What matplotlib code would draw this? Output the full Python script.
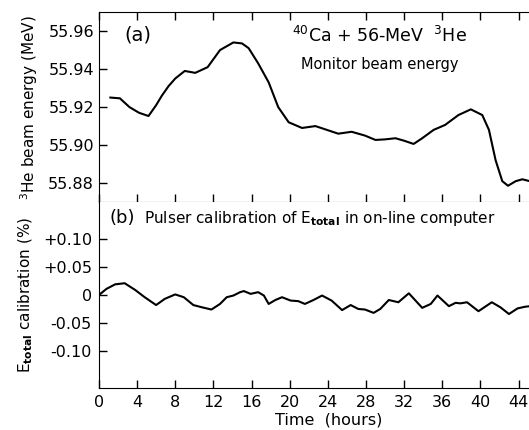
import numpy as np
import matplotlib
matplotlib.use("Agg")
import matplotlib.pyplot as plt
import matplotlib.ticker as tick

plt.rcParams['font.family'] = ['DejaVu Sans']
plt.rcParams['mathtext.fontset'] = 'dejavusans'

# (a) monitor beam energy, hours vs MeV
hours_a = [1.2, 2.2, 3.2, 4.2, 5.2, 6.0, 6.6, 7.3, 8.0, 9.0, 10.1, 11.4, 12.7, 14.1,
           15.0, 15.7, 16.7, 17.8, 18.8, 19.9, 21.3, 22.7, 23.9, 25.1, 26.5, 27.9,
           29.0, 30.0, 31.1, 32.0, 33.0, 33.9, 35.1, 36.3, 37.7, 39.0, 40.2, 40.9,
           41.6, 42.3, 42.9, 43.7, 44.4, 45.2]
energy_a = [55.925, 55.9246, 55.920, 55.917, 55.9153, 55.921, 55.926, 55.931, 55.935,
            55.939, 55.938, 55.941, 55.950, 55.954, 55.9535, 55.951, 55.943, 55.933,
            55.920, 55.912, 55.909, 55.910, 55.908, 55.906, 55.907, 55.905, 55.9027,
            55.903, 55.9036, 55.9023, 55.9006, 55.9036, 55.908, 55.9106, 55.9158,
            55.9188, 55.9158, 55.908, 55.892, 55.881, 55.8786, 55.881, 55.882, 55.881]

# (b) pulser calibration of E_total, hours vs %
hours_b = [0.0, 0.8, 1.7, 2.7, 3.8, 4.8, 6.0, 6.9, 8.0, 8.9, 9.9, 10.8, 11.8, 12.7,
           13.4, 14.1, 14.8, 15.2, 15.9, 16.7, 17.3, 17.8, 18.5, 19.2, 20.1, 20.9,
           21.6, 22.5, 23.4, 24.4, 25.5, 26.4, 27.2, 27.9, 28.8, 29.5, 30.4, 31.4,
           32.5, 33.9, 34.8, 35.5, 36.7, 37.4, 37.9, 38.6, 39.8, 41.2, 42.1, 43.0,
           43.9, 44.7, 45.2]
calib_b = [0.0, 0.011, 0.019, 0.021, 0.009, -0.004, -0.018, -0.007, 0.001, -0.004,
           -0.018, -0.022, -0.026, -0.016, -0.004, -0.001, 0.005, 0.007, 0.002, 0.005,
           -0.001, -0.016, -0.009, -0.004, -0.010, -0.011, -0.016, -0.009, -0.001,
           -0.010, -0.027, -0.018, -0.025, -0.026, -0.032, -0.025, -0.009, -0.013,
           0.003, -0.023, -0.016, -0.001, -0.020, -0.014, -0.015, -0.013, -0.029,
           -0.013, -0.022, -0.034, -0.024, -0.021, -0.020]

xticks = [0, 4, 8, 12, 16, 20, 24, 28, 32, 36, 40, 44]
yticks_a = [55.88, 55.90, 55.92, 55.94, 55.96]
yticks_b = [-0.10, -0.05, 0, 0.05, 0.10]
ylabels_b = ['-0.10', '-0.05', '0', '+0.05', '+0.10']

fig = plt.figure(figsize=(5.29, 4.30), dpi=100)
ax1 = fig.add_axes([0.187, 0.530, 0.813, 0.442])
ax2 = fig.add_axes([0.187, 0.098, 0.813, 0.432])

lw = 1.5
ax1.plot(hours_a, energy_a, color='black', lw=lw)
ax2.plot(hours_b, calib_b, color='black', lw=lw)

for ax in (ax1, ax2):
    ax.set_xlim(0, 45.1)
    ax.set_xticks(xticks)
    ax.spines['right'].set_visible(False)
    ax.tick_params(direction='in', length=6, width=1, labelsize=11.5,
                   top=True, bottom=True, left=True, right=False)

ax1.set_ylim(55.87, 55.97)
ax1.set_yticks(yticks_a)
ax1.yaxis.set_major_formatter(tick.FormatStrFormatter('%.2f'))
ax1.tick_params(labelbottom=False)

ax2.set_ylim(-0.166, 0.166)
ax2.set_yticks(yticks_b)
ax2.set_yticklabels(ylabels_b)
ax2.tick_params(top=False, pad=5)
ax2.spines['top'].set_visible(False)

ax1.set_ylabel(r'$^{3}$He beam energy (MeV)', fontsize=11, labelpad=6)
ax2.set_ylabel(r'E$_{\mathbf{total}}$ calibration (%)', fontsize=11, labelpad=6)
fig.text(0.622, 0.012, 'Time  (hours)', fontsize=11.5, ha='center')

ax1.text(0.06, 0.85, '(a)', transform=ax1.transAxes, fontsize=14)
ax1.text(0.653, 0.84, r'$^{40}$Ca + 56-MeV  $^{3}$He', transform=ax1.transAxes,
         fontsize=12.5, ha='center')
ax1.text(0.653, 0.70, 'Monitor beam energy', transform=ax1.transAxes,
         fontsize=10.5, ha='center')
ax2.text(0.025, 0.885, '(b)', transform=ax2.transAxes, fontsize=13)
ax2.text(0.105, 0.89, r'Pulser calibration of E$_{\mathbf{total}}$ in on-line computer',
         transform=ax2.transAxes, fontsize=11)

fig.savefig('out.png', dpi=100)
